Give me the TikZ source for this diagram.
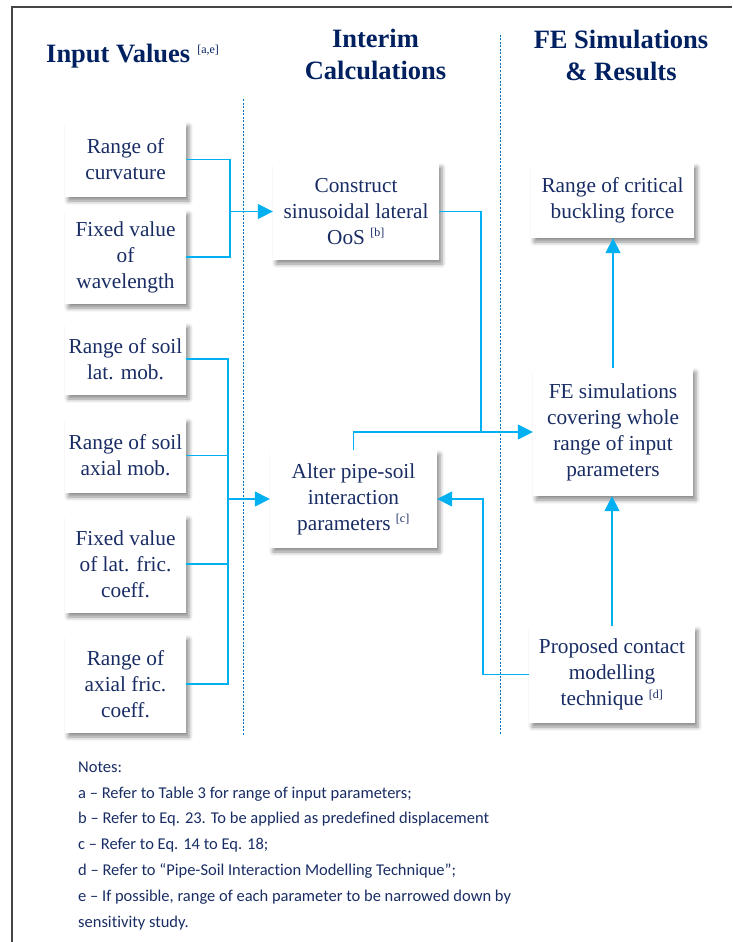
\documentclass[tikz,border=0pt]{standalone}
\usepackage{fontspec}
\setmainfont{Liberation Serif}
\newfontfamily\notesfont[Ligatures=NoCommon]{Carlito}
\usepackage{xcolor}
\definecolor{headnavy}{RGB}{0,32,96}
\definecolor{textnavy}{RGB}{25,45,100}
\definecolor{linkcyan}{RGB}{0,176,240}
\definecolor{sepblue}{RGB}{0,112,192}
\definecolor{framegray}{RGB}{70,70,70}
\usetikzlibrary{arrows.meta, positioning, shadows.blur}
\newcommand{\refmark}[1]{\textsuperscript{\fontsize{12}{12}\selectfont\mdseries #1}}

\begin{document}
\begin{tikzpicture}[x=1pt, y=-1pt,
    stepbox/.style={fill=white, text=textnavy, align=center, inner sep=2pt,
        font=\fontsize{21.3}{26}\selectfont,
        blur shadow={shadow xshift=3pt, shadow yshift=-4pt, shadow blur radius=4pt, shadow opacity=45}},
    header/.style={text=headnavy, align=center, inner sep=0pt, font=\fontsize{26.5}{32.5}\selectfont\bfseries},
    link/.style={draw=linkcyan, line width=1.5pt},
    arr/.style={link, -{Triangle[length=15pt, width=15pt]}},
    sep/.style={draw=sepblue, line width=0.9pt, dash pattern=on 2pt off 1.5pt}]
    \useasboundingbox (0,0) rectangle (732,942);

    % Page frame (top and left edge only)
    \draw[framegray, line width=1.1pt] (732,7) -- (12,7) -- (12,942);

    % Column headers (base = last line)
    \node[header, anchor=base west] (hinput) at (46,62.5) {Input Values\hspace{7pt}\refmark{[a,e]}};
    \node[header, anchor=base] (hinterim) at (375.5,80) {Interim\\Calculations};
    \node[header, anchor=base] (hfe) at (621,81) {FE Simulations\\\& Results};

    % Column separators
    \draw[sep] (243,99) -- (243,735);
    \draw[sep] (500,35) -- (500,735);

    % Input values
    \node[stepbox, minimum width=121pt, minimum height=75pt] (curv) at (125.5,159.5) {Range of\\curvature};
    \node[stepbox, minimum width=121pt, minimum height=94pt] (wave) at (125.5,257) {Fixed value\\of\\wavelength};
    \node[stepbox, minimum width=121pt, minimum height=72pt] (latmob) at (125.5,359) {Range of soil\\lat. mob.};
    \node[stepbox, minimum width=121pt, minimum height=75pt] (axmob) at (125.5,455.5) {Range of soil\\axial mob.};
    \node[stepbox, minimum width=121pt, minimum height=98pt] (latfric) at (125.5,564) {Fixed value\\of lat. fric.\\coeff.};
    \node[stepbox, minimum width=121pt, minimum height=98pt] (axfric) at (125.5,684) {Range of\\axial fric.\\coeff.};

    % Interim calculations
    \node[stepbox, minimum width=166pt, minimum height=97pt] (oos) at (356,211.5) {Construct\\sinusoidal lateral\\OoS \refmark{[b]}};
    \node[stepbox, minimum width=167pt, minimum height=98pt] (alter) at (353.5,499) {Alter pipe-soil\\interaction\\parameters \refmark{[c]}};

    % FE simulations and results
    \node[stepbox, minimum width=163pt, minimum height=75pt] (crit) at (612.5,200.5) {Range of critical\\buckling force};
    \node[stepbox, minimum width=160pt, minimum height=128pt] (fesim) at (613,432) {FE simulations\\covering whole\\range of input\\parameters};
    \node[stepbox, minimum width=166pt, minimum height=97pt] (contact) at (612,674.5) {Proposed contact\\modelling\\technique \refmark{[d]}};

    % Connectors
    \coordinate (busA) at (230,211.5);
    \coordinate (busB) at (228,499);
    \coordinate (merge) at (481,432);
    \coordinate (back) at (483,499);
    \draw[link] (curv.east) -| (busA) |- (wave.east);
    \draw[arr] (busA) -- (oos.west);
    \draw[link] (latmob.east) -| (busB) |- (axfric.east);
    \draw[link] (axmob.east) -| (busB);
    \draw[link] (latfric.east) -| (busB);
    \draw[arr] (busB) -- (alter.west);
    \draw[link] (oos.east) -| (merge);
    \draw[arr] (alter.north) |- (fesim.west);
    \draw[arr] (contact.west) -| (back) -- (alter.east);
    \draw[arr] (contact.north) -- (contact.north |- fesim.south);
    \draw[arr] (fesim.north) -- (fesim.north |- crit.south);

    % Notes (base = last line)
    \node[anchor=base west, align=left, inner sep=0pt, text=textnavy, font=\notesfont\fontsize{16.5}{25.8}\selectfont] (notes) at (78,927)
        {Notes:\\
         a – Refer to Table 3 for range of input parameters;\\
         b – Refer to Eq. 23. To be applied as predefined displacement\\
         c – Refer to Eq. 14 to Eq. 18;\\
         d – Refer to “Pipe-Soil Interaction Modelling Technique”;\\
         e – If possible, range of each parameter to be narrowed down by\\
         sensitivity study.};
\end{tikzpicture}
\end{document}
